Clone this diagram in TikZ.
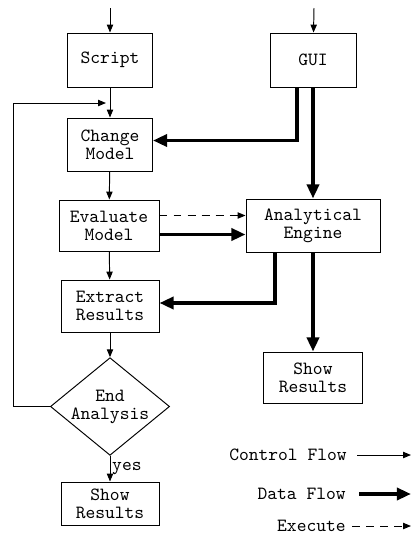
\documentclass[tikz,border=0pt]{standalone}
\usetikzlibrary{shapes.geometric}
\usetikzlibrary{arrows.meta}
\usetikzlibrary{calc}
\tikzset{block/.style={rectangle, draw, line width=.55pt, align=center, inner sep=0pt, font=\ttfamily\fontsize{10.6}{10.2}\selectfont}}
\tikzset{decision/.style={diamond, draw, line width=.55pt, align=center, inner sep=0pt, aspect=1.22, font=\ttfamily\fontsize{10.6}{10.2}\selectfont}}
\tikzset{legendtext/.style={anchor=east, inner sep=0pt, font=\ttfamily\fontsize{10.6}{10.2}\selectfont}}
\tikzset{ctrl/.style={line width=.55pt, -{Triangle[length=4.5pt,width=3.6pt]}}}
\tikzset{dataflow/.style={line width=2pt, -{Triangle[length=8pt,width=6.8pt]}}}
\tikzset{execflow/.style={line width=.55pt, dash pattern=on 4.5pt off 3.5pt, -{Triangle[length=4.5pt,width=3.6pt]}}}

\begin{document}
\begin{tikzpicture}[x=0.02cm,y=-0.02cm]
  \useasboundingbox (0,0) rectangle (414,535);
  \foreach \x/\y/\w/\h/\lab/\txt in {
    110/60/85/54/script/Script,
    313/60/86/54/gui/GUI,
    110/144.5/85/53/change/Change\\Model,
    109/225.5/100/51/evaluate/Evaluate\\Model,
    313/225.5/134/53/engine/Analytical\\Engine,
    110/306/98/52/extract/Extract\\Results,
    313/377.5/99/51/showright/Show\\Results,
    110/503.5/98/43/showleft/Show\\Results%
  } {
    \node[block, minimum width=\w*0.02cm, minimum height=\h*0.02cm] (\lab) at (\x, \y) {\txt};
  }
  \node[decision, minimum width=116*0.02cm, minimum height=95*0.02cm] (endanalysis) at (110,406.5) {End\\Analysis};

  \coordinate (scriptin) at (110,8);
  \coordinate (guiin) at (314,8);
  \coordinate (loopin) at (106,103);

  \foreach \u/\v in {
    scriptin/script,
    guiin/gui,
    script/change,
    change/evaluate,
    evaluate/extract,
    extract/endanalysis%
  }{
    \draw[ctrl] (\u) -- (\v);
  }
  \draw[ctrl] (endanalysis) -- node[right, inner sep=1pt, font=\ttfamily\fontsize{10.6}{10.2}\selectfont] {yes} (showleft);
  \draw[ctrl] (endanalysis.west) -- ++(-36,0) |- (loopin);

  \draw[dataflow] ($(gui.south)+(-16,0)$) |- ($(change.east)+(0,-4)$);
  \draw[dataflow] (gui) -- (engine);
  \draw[dataflow] ($(evaluate.east)+(0,9)$) -- ($(engine.west)+(0,9)$);
  \draw[execflow] ($(evaluate.east)+(0,-10)$) -- ($(engine.west)+(0,-10)$);
  \draw[dataflow] ($(engine.south)+(-38,0)$) |- ($(extract.east)+(0,-3)$);
  \draw[dataflow] (engine) -- (showright);

  \node[legendtext] (lctrl) at (347,455) {Control Flow};
  \node[legendtext] (ldata) at (346,494) {Data Flow};
  \node[legendtext] (lexec) at (346,526) {Execute};
  \coordinate (lctrlend) at (411,455);
  \coordinate (ldataend) at (411,494);
  \coordinate (lexecend) at (411,526);
  \draw[ctrl] ($(lctrl.east)+(10,0)$) -- (lctrlend);
  \draw[dataflow] ($(ldata.east)+(13,0)$) -- (ldataend);
  \draw[execflow] ($(lexec.east)+(6,0)$) -- (lexecend);
\end{tikzpicture}
\end{document}
